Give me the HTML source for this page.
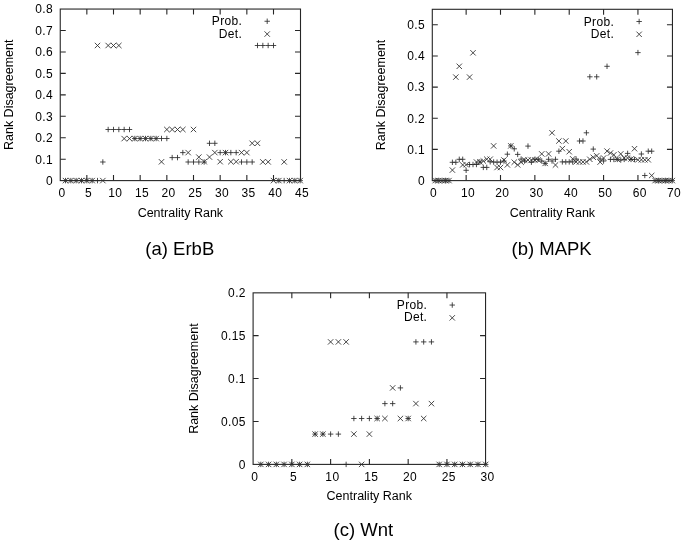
<!DOCTYPE html>
<html><head><meta charset="utf-8"><style>
html,body{margin:0;padding:0;background:#fff;}
body{width:685px;height:545px;overflow:hidden;}
svg{display:block;will-change:transform;}
text{font-family:"Liberation Sans", sans-serif;fill:#000;}
</style></head><body>
<svg width="685" height="545" viewBox="0 0 685 545" font-family='"Liberation Sans", sans-serif'>
<rect x="60.25" y="9.05" width="240.25" height="171.55" fill="none" stroke="#262626" stroke-width="1.1"/>
<path d="M86.84 180.6v-5.5M86.84 9.05v5.5M113.5 180.6v-5.5M113.5 9.05v5.5M140.17 180.6v-5.5M140.17 9.05v5.5M166.84 180.6v-5.5M166.84 9.05v5.5M193.5 180.6v-5.5M193.5 9.05v5.5M220.17 180.6v-5.5M220.17 9.05v5.5M246.84 180.6v-5.5M246.84 9.05v5.5M273.5 180.6v-5.5M273.5 9.05v5.5M60.25 159.24h5.5M300.5 159.24h-5.5M60.25 137.78h5.5M300.5 137.78h-5.5M60.25 116.32h5.5M300.5 116.32h-5.5M60.25 94.86h5.5M300.5 94.86h-5.5M60.25 73.4h5.5M300.5 73.4h-5.5M60.25 51.94h5.5M300.5 51.94h-5.5M60.25 30.48h5.5M300.5 30.48h-5.5" fill="none" stroke="#262626" stroke-width="1.1"/>
<g font-size="12" letter-spacing="0.35"><text x="61.95" y="196.9" text-anchor="middle">0</text><text x="88.61" y="196.9" text-anchor="middle">5</text><text x="115.28" y="196.9" text-anchor="middle">10</text><text x="141.95" y="196.9" text-anchor="middle">15</text><text x="168.61" y="196.9" text-anchor="middle">20</text><text x="195.28" y="196.9" text-anchor="middle">25</text><text x="221.95" y="196.9" text-anchor="middle">30</text><text x="248.61" y="196.9" text-anchor="middle">35</text><text x="275.28" y="196.9" text-anchor="middle">40</text><text x="301.95" y="196.9" text-anchor="middle">45</text><text x="53" y="185" text-anchor="end">0</text><text x="53" y="163.54" text-anchor="end">0.1</text><text x="53" y="142.08" text-anchor="end">0.2</text><text x="53" y="120.62" text-anchor="end">0.3</text><text x="53" y="99.16" text-anchor="end">0.4</text><text x="53" y="77.7" text-anchor="end">0.5</text><text x="53" y="56.24" text-anchor="end">0.6</text><text x="53" y="34.78" text-anchor="end">0.7</text><text x="53" y="13.32" text-anchor="end">0.8</text></g>
<g font-size="12" letter-spacing="0.35" text-anchor="end"><text x="242.25" y="25.35">Prob.</text><text x="242.25" y="37.65">Det.</text></g>
<text x="12.8" y="94.83" font-size="12.5" text-anchor="middle" transform="rotate(-90 12.8 94.83)" dy="0">Rank Disagreement</text>
<text x="180.38" y="216.9" font-size="12.5" text-anchor="middle">Centrality Rank</text>
<text x="179.8" y="254.8" font-size="18.5" text-anchor="middle">(a) ErbB</text>
<path d="M62.8 180.6h5.4M65.5 177.9v5.4M68.14 180.6h5.4M70.84 177.9v5.4M73.47 180.6h5.4M76.17 177.9v5.4M78.8 180.6h5.4M81.5 177.9v5.4M84.14 180.6h5.4M86.84 177.9v5.4M89.47 180.6h5.4M92.17 177.9v5.4M94.8 180.6h5.4M97.5 177.9v5.4M100.14 162h5.4M102.84 159.3v5.4M105.47 129.5h5.4M108.17 126.8v5.4M110.8 129.5h5.4M113.5 126.8v5.4M116.14 129.5h5.4M118.84 126.8v5.4M121.47 129.5h5.4M124.17 126.8v5.4M126.8 129.5h5.4M129.5 126.8v5.4M132.14 138.5h5.4M134.84 135.8v5.4M137.47 138.5h5.4M140.17 135.8v5.4M142.8 138.5h5.4M145.5 135.8v5.4M148.14 138.5h5.4M150.84 135.8v5.4M153.47 138.5h5.4M156.17 135.8v5.4M158.8 138.5h5.4M161.5 135.8v5.4M164.14 138.5h5.4M166.84 135.8v5.4M169.47 157.6h5.4M172.17 154.9v5.4M174.8 157.6h5.4M177.5 154.9v5.4M180.14 152.6h5.4M182.84 149.9v5.4M185.47 162h5.4M188.17 159.3v5.4M190.8 162h5.4M193.5 159.3v5.4M196.14 162h5.4M198.84 159.3v5.4M201.47 162h5.4M204.17 159.3v5.4M206.8 143.3h5.4M209.5 140.6v5.4M212.14 143.3h5.4M214.84 140.6v5.4M217.47 152.6h5.4M220.17 149.9v5.4M222.8 152.6h5.4M225.5 149.9v5.4M228.14 152.6h5.4M230.84 149.9v5.4M233.47 152.6h5.4M236.17 149.9v5.4M238.8 162h5.4M241.5 159.3v5.4M244.14 162h5.4M246.84 159.3v5.4M249.47 162h5.4M252.17 159.3v5.4M254.8 45.5h5.4M257.5 42.8v5.4M260.14 45.5h5.4M262.84 42.8v5.4M265.47 45.5h5.4M268.17 42.8v5.4M270.8 45.5h5.4M273.5 42.8v5.4M276.14 180.6h5.4M278.84 177.9v5.4M281.47 180.6h5.4M284.17 177.9v5.4M286.8 180.6h5.4M289.5 177.9v5.4M292.14 180.6h5.4M294.84 177.9v5.4M297.47 180.6h5.4M300.17 177.9v5.4M264.5 21.25h5.4M267.2 18.55v5.4" fill="none" stroke="#2a2a2a" stroke-width="0.85"/>
<path d="M62.8 177.9l5.4 5.4M62.8 183.3l5.4 -5.4M68.14 177.9l5.4 5.4M68.14 183.3l5.4 -5.4M73.47 177.9l5.4 5.4M73.47 183.3l5.4 -5.4M78.8 177.9l5.4 5.4M78.8 183.3l5.4 -5.4M84.14 177.9l5.4 5.4M84.14 183.3l5.4 -5.4M89.47 177.9l5.4 5.4M89.47 183.3l5.4 -5.4M94.8 42.8l5.4 5.4M94.8 48.2l5.4 -5.4M100.14 177.9l5.4 5.4M100.14 183.3l5.4 -5.4M105.47 42.8l5.4 5.4M105.47 48.2l5.4 -5.4M110.8 42.8l5.4 5.4M110.8 48.2l5.4 -5.4M116.14 42.8l5.4 5.4M116.14 48.2l5.4 -5.4M121.47 135.9l5.4 5.4M121.47 141.3l5.4 -5.4M126.8 135.9l5.4 5.4M126.8 141.3l5.4 -5.4M132.14 135.9l5.4 5.4M132.14 141.3l5.4 -5.4M137.47 135.9l5.4 5.4M137.47 141.3l5.4 -5.4M142.8 135.9l5.4 5.4M142.8 141.3l5.4 -5.4M148.14 135.9l5.4 5.4M148.14 141.3l5.4 -5.4M153.47 135.9l5.4 5.4M153.47 141.3l5.4 -5.4M158.8 159.1l5.4 5.4M158.8 164.5l5.4 -5.4M164.14 126.8l5.4 5.4M164.14 132.2l5.4 -5.4M169.47 126.8l5.4 5.4M169.47 132.2l5.4 -5.4M174.8 126.8l5.4 5.4M174.8 132.2l5.4 -5.4M180.14 126.8l5.4 5.4M180.14 132.2l5.4 -5.4M185.47 149.9l5.4 5.4M185.47 155.3l5.4 -5.4M190.8 126.8l5.4 5.4M190.8 132.2l5.4 -5.4M196.14 154.4l5.4 5.4M196.14 159.8l5.4 -5.4M201.47 159l5.4 5.4M201.47 164.4l5.4 -5.4M206.8 154.4l5.4 5.4M206.8 159.8l5.4 -5.4M212.14 149.9l5.4 5.4M212.14 155.3l5.4 -5.4M217.47 159l5.4 5.4M217.47 164.4l5.4 -5.4M222.8 149.9l5.4 5.4M222.8 155.3l5.4 -5.4M228.14 159l5.4 5.4M228.14 164.4l5.4 -5.4M233.47 159l5.4 5.4M233.47 164.4l5.4 -5.4M238.8 149.9l5.4 5.4M238.8 155.3l5.4 -5.4M244.14 149.9l5.4 5.4M244.14 155.3l5.4 -5.4M249.47 140.6l5.4 5.4M249.47 146l5.4 -5.4M254.8 140.6l5.4 5.4M254.8 146l5.4 -5.4M260.14 159.2l5.4 5.4M260.14 164.6l5.4 -5.4M265.47 159.2l5.4 5.4M265.47 164.6l5.4 -5.4M270.8 177.9l5.4 5.4M270.8 183.3l5.4 -5.4M276.14 177.9l5.4 5.4M276.14 183.3l5.4 -5.4M281.47 159.2l5.4 5.4M281.47 164.6l5.4 -5.4M286.8 177.9l5.4 5.4M286.8 183.3l5.4 -5.4M292.14 177.9l5.4 5.4M292.14 183.3l5.4 -5.4M297.47 177.9l5.4 5.4M297.47 183.3l5.4 -5.4M264.5 31.35l5.4 5.4M264.5 36.75l5.4 -5.4" fill="none" stroke="#2a2a2a" stroke-width="0.85"/>
<rect x="432.3" y="9.3" width="240.15" height="171.3" fill="none" stroke="#262626" stroke-width="1.1"/>
<path d="M466.14 180.6v-5.5M466.14 9.3v5.5M500.5 180.6v-5.5M500.5 9.3v5.5M534.86 180.6v-5.5M534.86 9.3v5.5M569.22 180.6v-5.5M569.22 9.3v5.5M603.58 180.6v-5.5M603.58 9.3v5.5M637.94 180.6v-5.5M637.94 9.3v5.5M432.3 149.4h5.5M672.45 149.4h-5.5M432.3 118.25h5.5M672.45 118.25h-5.5M432.3 87.1h5.5M672.45 87.1h-5.5M432.3 55.95h5.5M672.45 55.95h-5.5M432.3 24.8h5.5M672.45 24.8h-5.5" fill="none" stroke="#262626" stroke-width="1.1"/>
<g font-size="12" letter-spacing="0.35"><text x="433.56" y="197.1" text-anchor="middle">0</text><text x="467.92" y="197.1" text-anchor="middle">10</text><text x="502.28" y="197.1" text-anchor="middle">20</text><text x="536.63" y="197.1" text-anchor="middle">30</text><text x="571" y="197.1" text-anchor="middle">40</text><text x="605.35" y="197.1" text-anchor="middle">50</text><text x="639.71" y="197.1" text-anchor="middle">60</text><text x="674.07" y="197.1" text-anchor="middle">70</text><text x="425.05" y="184.85" text-anchor="end">0</text><text x="425.05" y="153.7" text-anchor="end">0.1</text><text x="425.05" y="122.55" text-anchor="end">0.2</text><text x="425.05" y="91.4" text-anchor="end">0.3</text><text x="425.05" y="60.25" text-anchor="end">0.4</text><text x="425.05" y="29.1" text-anchor="end">0.5</text></g>
<g font-size="12" letter-spacing="0.35" text-anchor="end"><text x="614.2" y="25.6">Prob.</text><text x="614.2" y="37.9">Det.</text></g>
<text x="384.8" y="94.95" font-size="12.5" text-anchor="middle" transform="rotate(-90 384.8 94.95)" dy="0">Rank Disagreement</text>
<text x="552.38" y="216.9" font-size="12.5" text-anchor="middle">Centrality Rank</text>
<text x="551.6" y="255.4" font-size="18.5" text-anchor="middle">(b) MAPK</text>
<path d="M432.52 180.6h5.4M435.22 177.9v5.4M435.95 180.6h5.4M438.65 177.9v5.4M439.39 180.6h5.4M442.09 177.9v5.4M442.82 180.6h5.4M445.52 177.9v5.4M446.26 180.6h5.4M448.96 177.9v5.4M449.7 162.3h5.4M452.4 159.6v5.4M453.13 162.3h5.4M455.83 159.6v5.4M456.57 159.3h5.4M459.27 156.6v5.4M460 159.3h5.4M462.7 156.6v5.4M463.44 170.3h5.4M466.14 167.6v5.4M466.88 164.5h5.4M469.58 161.8v5.4M470.31 164.5h5.4M473.01 161.8v5.4M473.75 164.5h5.4M476.45 161.8v5.4M477.18 162h5.4M479.88 159.3v5.4M480.62 167.4h5.4M483.32 164.7v5.4M484.06 167.4h5.4M486.76 164.7v5.4M487.49 161.8h5.4M490.19 159.1v5.4M490.93 162h5.4M493.63 159.3v5.4M494.36 162.2h5.4M497.06 159.5v5.4M497.8 162h5.4M500.5 159.3v5.4M501.24 161h5.4M503.94 158.3v5.4M504.67 154.2h5.4M507.37 151.5v5.4M508.11 145.9h5.4M510.81 143.2v5.4M511.54 148.8h5.4M514.24 146.1v5.4M514.98 154.4h5.4M517.68 151.7v5.4M518.42 159.1h5.4M521.12 156.4v5.4M521.85 161h5.4M524.55 158.3v5.4M525.29 146.1h5.4M527.99 143.4v5.4M528.72 162.2h5.4M531.42 159.5v5.4M532.16 159.3h5.4M534.86 156.6v5.4M535.6 159.3h5.4M538.3 156.6v5.4M539.03 161h5.4M541.73 158.3v5.4M542.47 163.4h5.4M545.17 160.7v5.4M545.9 159.3h5.4M548.6 156.6v5.4M549.34 161h5.4M552.04 158.3v5.4M552.78 159.3h5.4M555.48 156.6v5.4M556.21 151.2h5.4M558.91 148.5v5.4M559.65 161.9h5.4M562.35 159.2v5.4M563.08 161.9h5.4M565.78 159.2v5.4M566.52 161.9h5.4M569.22 159.2v5.4M569.96 161.9h5.4M572.66 159.2v5.4M573.39 159h5.4M576.09 156.3v5.4M576.83 141h5.4M579.53 138.3v5.4M580.26 141h5.4M582.96 138.3v5.4M583.7 132.8h5.4M586.4 130.1v5.4M587.14 76.8h5.4M589.84 74.1v5.4M590.57 149.1h5.4M593.27 146.4v5.4M594.01 76.8h5.4M596.71 74.1v5.4M597.44 159h5.4M600.14 156.3v5.4M600.88 161h5.4M603.58 158.3v5.4M604.32 66.3h5.4M607.02 63.6v5.4M607.75 159.4h5.4M610.45 156.7v5.4M611.19 159.4h5.4M613.89 156.7v5.4M614.62 159.4h5.4M617.32 156.7v5.4M618.06 160h5.4M620.76 157.3v5.4M621.5 159.4h5.4M624.2 156.7v5.4M624.93 153.4h5.4M627.63 150.7v5.4M628.37 159.4h5.4M631.07 156.7v5.4M631.8 159.4h5.4M634.5 156.7v5.4M635.24 52.6h5.4M637.94 49.9v5.4M638.68 154h5.4M641.38 151.3v5.4M642.11 175.5h5.4M644.81 172.8v5.4M645.55 151.2h5.4M648.25 148.5v5.4M648.98 151.2h5.4M651.68 148.5v5.4M652.42 180.6h5.4M655.12 177.9v5.4M655.86 180.6h5.4M658.56 177.9v5.4M659.29 180.6h5.4M661.99 177.9v5.4M662.73 180.6h5.4M665.43 177.9v5.4M666.16 180.6h5.4M668.86 177.9v5.4M669.6 180.6h5.4M672.3 177.9v5.4M636.45 21.5h5.4M639.15 18.8v5.4" fill="none" stroke="#2a2a2a" stroke-width="0.85"/>
<path d="M432.52 177.9l5.4 5.4M432.52 183.3l5.4 -5.4M435.95 177.9l5.4 5.4M435.95 183.3l5.4 -5.4M439.39 177.9l5.4 5.4M439.39 183.3l5.4 -5.4M442.82 177.9l5.4 5.4M442.82 183.3l5.4 -5.4M446.26 177.9l5.4 5.4M446.26 183.3l5.4 -5.4M449.7 167.4l5.4 5.4M449.7 172.8l5.4 -5.4M453.13 74.4l5.4 5.4M453.13 79.8l5.4 -5.4M456.57 63.6l5.4 5.4M456.57 69l5.4 -5.4M460 162.2l5.4 5.4M460 167.6l5.4 -5.4M463.44 162l5.4 5.4M463.44 167.4l5.4 -5.4M466.88 74.4l5.4 5.4M466.88 79.8l5.4 -5.4M470.31 50.1l5.4 5.4M470.31 55.5l5.4 -5.4M473.75 159.3l5.4 5.4M473.75 164.7l5.4 -5.4M477.18 159.3l5.4 5.4M477.18 164.7l5.4 -5.4M480.62 158.3l5.4 5.4M480.62 163.7l5.4 -5.4M484.06 156.5l5.4 5.4M484.06 161.9l5.4 -5.4M487.49 156.5l5.4 5.4M487.49 161.9l5.4 -5.4M490.93 143.2l5.4 5.4M490.93 148.6l5.4 -5.4M494.36 164.8l5.4 5.4M494.36 170.2l5.4 -5.4M497.8 164.8l5.4 5.4M497.8 170.2l5.4 -5.4M501.24 157.3l5.4 5.4M501.24 162.7l5.4 -5.4M504.67 162.2l5.4 5.4M504.67 167.6l5.4 -5.4M508.11 143.2l5.4 5.4M508.11 148.6l5.4 -5.4M511.54 159.5l5.4 5.4M511.54 164.9l5.4 -5.4M514.98 162.2l5.4 5.4M514.98 167.6l5.4 -5.4M518.42 159.5l5.4 5.4M518.42 164.9l5.4 -5.4M521.85 157.3l5.4 5.4M521.85 162.7l5.4 -5.4M525.29 157.3l5.4 5.4M525.29 162.7l5.4 -5.4M528.72 157.3l5.4 5.4M528.72 162.7l5.4 -5.4M532.16 157.3l5.4 5.4M532.16 162.7l5.4 -5.4M535.6 157.3l5.4 5.4M535.6 162.7l5.4 -5.4M539.03 151.2l5.4 5.4M539.03 156.6l5.4 -5.4M542.47 160.7l5.4 5.4M542.47 166.1l5.4 -5.4M545.9 151.2l5.4 5.4M545.9 156.6l5.4 -5.4M549.34 130.1l5.4 5.4M549.34 135.5l5.4 -5.4M552.78 162.3l5.4 5.4M552.78 167.7l5.4 -5.4M556.21 138.3l5.4 5.4M556.21 143.7l5.4 -5.4M559.65 145.9l5.4 5.4M559.65 151.3l5.4 -5.4M563.08 138.3l5.4 5.4M563.08 143.7l5.4 -5.4M566.52 149l5.4 5.4M566.52 154.4l5.4 -5.4M569.96 156.1l5.4 5.4M569.96 161.5l5.4 -5.4M573.39 159.2l5.4 5.4M573.39 164.6l5.4 -5.4M576.83 159.2l5.4 5.4M576.83 164.6l5.4 -5.4M580.26 159.2l5.4 5.4M580.26 164.6l5.4 -5.4M583.7 159.2l5.4 5.4M583.7 164.6l5.4 -5.4M587.14 156.6l5.4 5.4M587.14 162l5.4 -5.4M590.57 154.6l5.4 5.4M590.57 160l5.4 -5.4M594.01 153.1l5.4 5.4M594.01 158.5l5.4 -5.4M597.44 159.4l5.4 5.4M597.44 164.8l5.4 -5.4M600.88 155.3l5.4 5.4M600.88 160.7l5.4 -5.4M604.32 148.4l5.4 5.4M604.32 153.8l5.4 -5.4M607.75 150.3l5.4 5.4M607.75 155.7l5.4 -5.4M611.19 152.1l5.4 5.4M611.19 157.5l5.4 -5.4M614.62 156.7l5.4 5.4M614.62 162.1l5.4 -5.4M618.06 151.2l5.4 5.4M618.06 156.6l5.4 -5.4M621.5 155.3l5.4 5.4M621.5 160.7l5.4 -5.4M624.93 155.3l5.4 5.4M624.93 160.7l5.4 -5.4M628.37 156.3l5.4 5.4M628.37 161.7l5.4 -5.4M631.8 146l5.4 5.4M631.8 151.4l5.4 -5.4M635.24 157.1l5.4 5.4M635.24 162.5l5.4 -5.4M638.68 157.1l5.4 5.4M638.68 162.5l5.4 -5.4M642.11 157.1l5.4 5.4M642.11 162.5l5.4 -5.4M645.55 157.1l5.4 5.4M645.55 162.5l5.4 -5.4M648.98 172.8l5.4 5.4M648.98 178.2l5.4 -5.4M652.42 177.9l5.4 5.4M652.42 183.3l5.4 -5.4M655.86 177.9l5.4 5.4M655.86 183.3l5.4 -5.4M659.29 177.9l5.4 5.4M659.29 183.3l5.4 -5.4M662.73 177.9l5.4 5.4M662.73 183.3l5.4 -5.4M666.16 177.9l5.4 5.4M666.16 183.3l5.4 -5.4M669.6 177.9l5.4 5.4M669.6 183.3l5.4 -5.4M636.45 31.6l5.4 5.4M636.45 37l5.4 -5.4" fill="none" stroke="#2a2a2a" stroke-width="0.85"/>
<rect x="253.1" y="292.85" width="232.45" height="171.55" fill="none" stroke="#262626" stroke-width="1.1"/>
<path d="M291.84 464.4v-5.5M291.84 292.85v5.5M330.62 464.4v-5.5M330.62 292.85v5.5M369.39 464.4v-5.5M369.39 292.85v5.5M408.17 464.4v-5.5M408.17 292.85v5.5M446.94 464.4v-5.5M446.94 292.85v5.5M253.1 421.5h5.5M485.55 421.5h-5.5M253.1 378.55h5.5M485.55 378.55h-5.5M253.1 335.6h5.5M485.55 335.6h-5.5" fill="none" stroke="#262626" stroke-width="1.1"/>
<g font-size="12" letter-spacing="0.35"><text x="254.84" y="480.9" text-anchor="middle">0</text><text x="293.62" y="480.9" text-anchor="middle">5</text><text x="332.4" y="480.9" text-anchor="middle">10</text><text x="371.17" y="480.9" text-anchor="middle">15</text><text x="409.94" y="480.9" text-anchor="middle">20</text><text x="448.72" y="480.9" text-anchor="middle">25</text><text x="487.5" y="480.9" text-anchor="middle">30</text><text x="245.85" y="468.75" text-anchor="end">0</text><text x="245.85" y="425.8" text-anchor="end">0.05</text><text x="245.85" y="382.85" text-anchor="end">0.1</text><text x="245.85" y="339.9" text-anchor="end">0.15</text><text x="245.85" y="296.95" text-anchor="end">0.2</text></g>
<g font-size="12" letter-spacing="0.35" text-anchor="end"><text x="427.3" y="309.15">Prob.</text><text x="427.3" y="321.45">Det.</text></g>
<text x="197.8" y="378.62" font-size="12.5" text-anchor="middle" transform="rotate(-90 197.8 378.62)" dy="0">Rank Disagreement</text>
<text x="369.32" y="500" font-size="12.5" text-anchor="middle">Centrality Rank</text>
<text x="363.4" y="536.4" font-size="18.5" text-anchor="middle">(c) Wnt</text>
<path d="M258.12 464.4h5.4M260.82 461.7v5.4M265.88 464.4h5.4M268.58 461.7v5.4M273.63 464.4h5.4M276.33 461.7v5.4M281.39 464.4h5.4M284.09 461.7v5.4M289.14 464.4h5.4M291.84 461.7v5.4M296.9 464.4h5.4M299.6 461.7v5.4M304.66 464.4h5.4M307.36 461.7v5.4M312.41 434.1h5.4M315.11 431.4v5.4M320.17 434.1h5.4M322.87 431.4v5.4M327.92 434.1h5.4M330.62 431.4v5.4M335.68 434.1h5.4M338.38 431.4v5.4M343.43 464.4h5.4M346.13 461.7v5.4M351.19 418.5h5.4M353.88 415.8v5.4M358.94 418.5h5.4M361.64 415.8v5.4M366.69 418.5h5.4M369.39 415.8v5.4M374.45 418.5h5.4M377.15 415.8v5.4M382.2 403.6h5.4M384.9 400.9v5.4M389.96 403.6h5.4M392.66 400.9v5.4M397.71 387.9h5.4M400.41 385.2v5.4M405.47 418.5h5.4M408.17 415.8v5.4M413.22 341.9h5.4M415.92 339.2v5.4M420.98 341.9h5.4M423.68 339.2v5.4M428.74 341.9h5.4M431.44 339.2v5.4M436.49 464.4h5.4M439.19 461.7v5.4M444.25 464.4h5.4M446.94 461.7v5.4M452 464.4h5.4M454.7 461.7v5.4M459.75 464.4h5.4M462.45 461.7v5.4M467.51 464.4h5.4M470.21 461.7v5.4M475.27 464.4h5.4M477.97 461.7v5.4M483.02 464.4h5.4M485.72 461.7v5.4M449.55 305.05h5.4M452.25 302.35v5.4" fill="none" stroke="#2a2a2a" stroke-width="0.85"/>
<path d="M258.12 461.7l5.4 5.4M258.12 467.1l5.4 -5.4M265.88 461.7l5.4 5.4M265.88 467.1l5.4 -5.4M273.63 461.7l5.4 5.4M273.63 467.1l5.4 -5.4M281.39 461.7l5.4 5.4M281.39 467.1l5.4 -5.4M289.14 461.7l5.4 5.4M289.14 467.1l5.4 -5.4M296.9 461.7l5.4 5.4M296.9 467.1l5.4 -5.4M304.66 461.7l5.4 5.4M304.66 467.1l5.4 -5.4M312.41 431.4l5.4 5.4M312.41 436.8l5.4 -5.4M320.17 431.4l5.4 5.4M320.17 436.8l5.4 -5.4M327.92 339.2l5.4 5.4M327.92 344.6l5.4 -5.4M335.68 339.2l5.4 5.4M335.68 344.6l5.4 -5.4M343.43 339.2l5.4 5.4M343.43 344.6l5.4 -5.4M351.19 431.4l5.4 5.4M351.19 436.8l5.4 -5.4M358.94 461.7l5.4 5.4M358.94 467.1l5.4 -5.4M366.69 431.4l5.4 5.4M366.69 436.8l5.4 -5.4M374.45 415.8l5.4 5.4M374.45 421.2l5.4 -5.4M382.2 415.8l5.4 5.4M382.2 421.2l5.4 -5.4M389.96 385.2l5.4 5.4M389.96 390.6l5.4 -5.4M397.71 415.8l5.4 5.4M397.71 421.2l5.4 -5.4M405.47 415.8l5.4 5.4M405.47 421.2l5.4 -5.4M413.22 400.9l5.4 5.4M413.22 406.3l5.4 -5.4M420.98 415.8l5.4 5.4M420.98 421.2l5.4 -5.4M428.74 400.9l5.4 5.4M428.74 406.3l5.4 -5.4M436.49 461.7l5.4 5.4M436.49 467.1l5.4 -5.4M444.25 461.7l5.4 5.4M444.25 467.1l5.4 -5.4M452 461.7l5.4 5.4M452 467.1l5.4 -5.4M459.75 461.7l5.4 5.4M459.75 467.1l5.4 -5.4M467.51 461.7l5.4 5.4M467.51 467.1l5.4 -5.4M475.27 461.7l5.4 5.4M475.27 467.1l5.4 -5.4M483.02 461.7l5.4 5.4M483.02 467.1l5.4 -5.4M449.55 315.15l5.4 5.4M449.55 320.55l5.4 -5.4" fill="none" stroke="#2a2a2a" stroke-width="0.85"/>
</svg>
</body></html>
